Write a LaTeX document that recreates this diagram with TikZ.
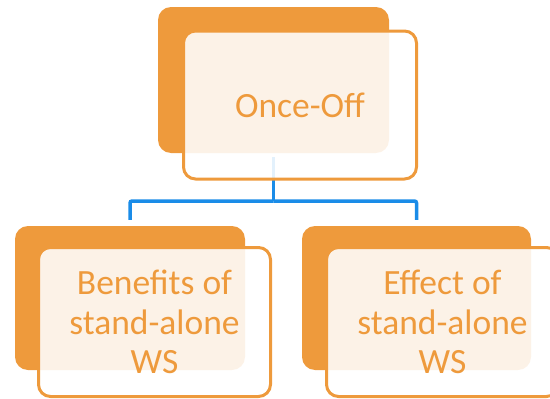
\documentclass[tikz,border=0pt]{standalone}
\usepackage{fontspec}
\setmainfont{Carlito}
\usetikzlibrary{positioning}
\definecolor{boxorange}{HTML}{EE9A3C}
\definecolor{linkblue}{HTML}{1A8CE8}

\begin{document}
\begin{tikzpicture}[x=1pt, y=-1pt,
    backbox/.style={rectangle, rounded corners=13pt, fill=boxorange, inner sep=0pt},
    frontbox/.style={rectangle, rounded corners=12pt, draw=boxorange, line width=3pt,
        fill=white, fill opacity=0.88, text opacity=1, text=boxorange, align=center,
        inner sep=0pt, minimum width=232pt, font=\fontsize{35.5}{39.5}\selectfont},
    link/.style={draw=linkblue, line width=3.5pt, rounded corners=2pt}]
    \clip (0,0) rectangle (550,399);

    % back boxes
    \node[backbox, minimum width=231pt, minimum height=146pt] (onceback) at (273.5,80) {};
    \node[backbox, minimum width=230pt, minimum height=144pt] (benefitsback) at (130,298) {};
    \node[backbox, minimum width=229pt, minimum height=144pt] (effectback) at (416.5,298) {};

    % connectors
    \coordinate (fork) at (273.5,201);
    \draw[link, shorten <=4pt] (onceback.south) -- (fork);
    \draw[link, shorten >=6pt] (fork) -| (benefitsback.north);
    \draw[link, shorten >=6pt] (fork) -| (effectback.north);

    % front boxes
    \node[frontbox, minimum width=233pt, minimum height=148pt] (once) at (300,105) {Once-Off};
    \node[frontbox, minimum height=149pt] (benefits) at (154.5,322) {Benefits of\\stand-alone\\WS};
    \node[frontbox, minimum height=149pt] (effect) at (442.5,322) {Effect of\\stand-alone\\WS};
\end{tikzpicture}
\end{document}
